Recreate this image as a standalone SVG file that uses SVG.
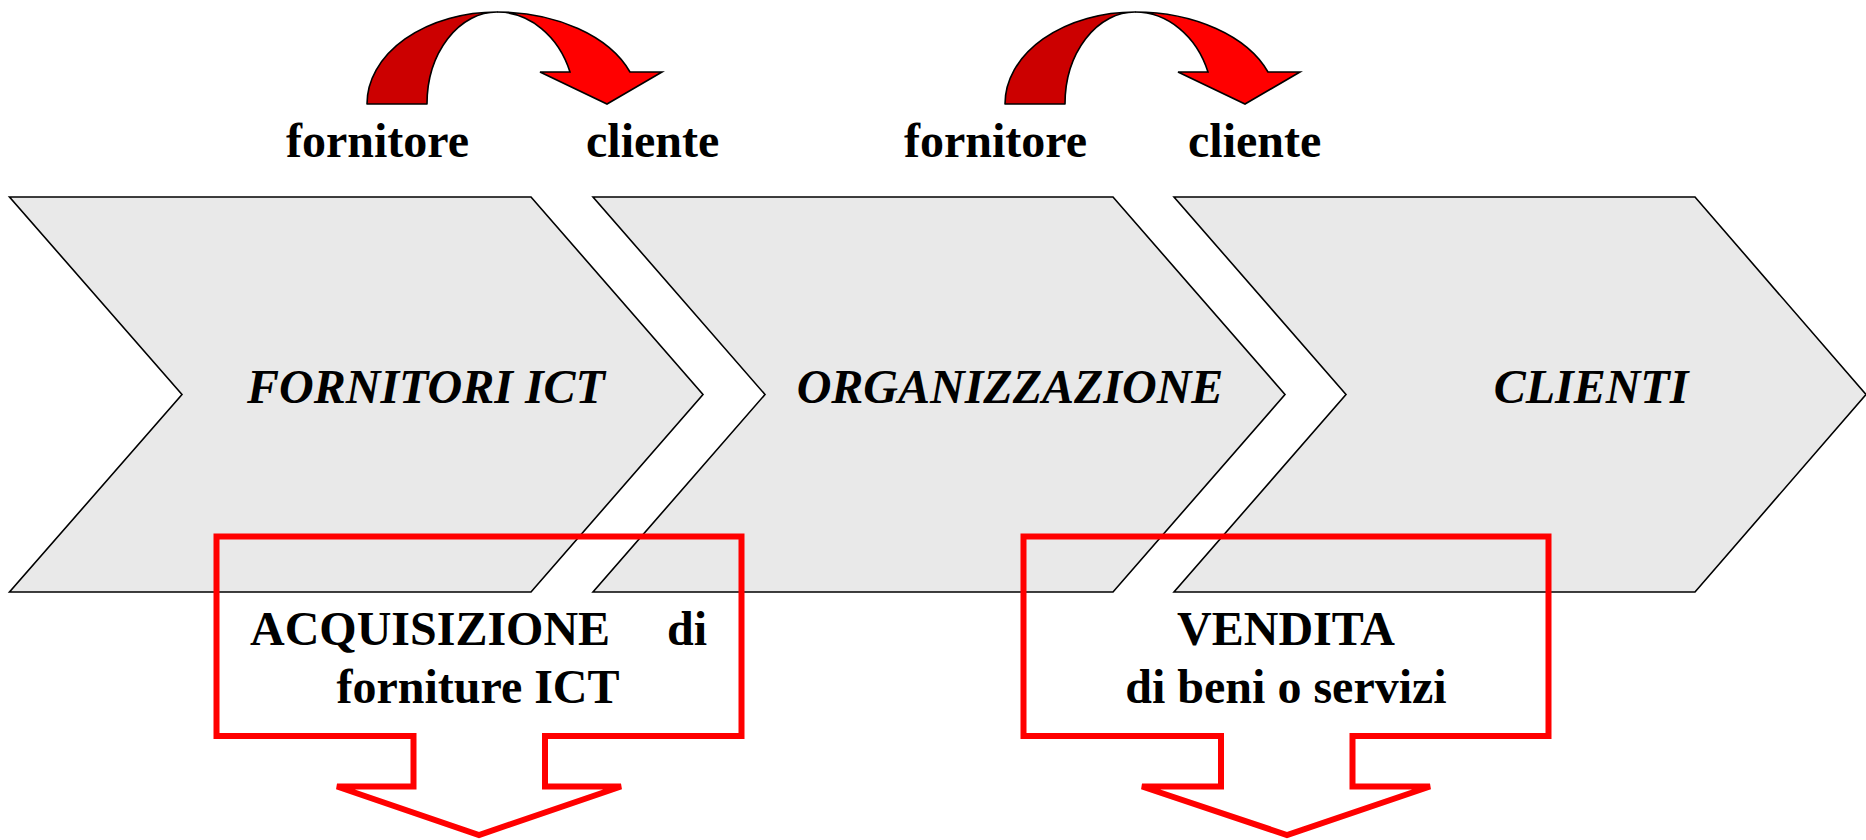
<svg xmlns="http://www.w3.org/2000/svg" width="1866" height="840" viewBox="0 0 1866 840">
<style>
.chev{fill:#E9E9E9;stroke:#000;stroke-width:1.6;stroke-linejoin:miter}
.call{fill:none;stroke:#FF0000;stroke-width:6;stroke-linejoin:miter}
.lbl{font-family:"Liberation Serif","Times New Roman",serif;font-size:48px;font-weight:bold;font-style:italic;fill:#000;text-anchor:middle}
.txt{font-family:"Liberation Serif","Times New Roman",serif;font-size:48px;font-weight:bold;fill:#000}
.dark{fill:#CC0000;stroke:#000;stroke-width:1.6;stroke-linejoin:round}
.bright{fill:#FF0000;stroke:#000;stroke-width:1.6;stroke-linejoin:miter}
</style>
<defs>
<g id="curve">
<path class="dark" d="M367,104 A130,92 0 0 1 497,12 A70,92 0 0 0 427,104 Z"/>
<path class="bright" d="M497,12 A142,92 0 0 1 630,72 L662,72 L607,104 L540,72 L570,72 A78,92 0 0 0 497,12 Z"/>
</g>
</defs>
<rect width="1866" height="840" fill="#fff"/>
<g id="fornitori-ict">
<polygon class="chev" points="9.5,197 531,197 703,394.5 531,592 9.5,592 182,394.5"/>
<text class="lbl" x="426" y="403">FORNITORI ICT</text>
</g>
<g id="organizzazione">
<polygon class="chev" points="593,197 1113,197 1285,394.5 1113,592 593,592 765,394.5"/>
<text class="lbl" x="1010" y="403">ORGANIZZAZIONE</text>
</g>
<g id="clienti">
<polygon class="chev" points="1174,197 1695,197 1866,394.5 1695,592 1174,592 1346,394.5"/>
<text class="lbl" x="1591" y="403">CLIENTI</text>
</g>
<g id="acquisizione">
<polygon class="call" points="216.5,536.5 741.5,536.5 741.5,736 545,736 545,786.5 621,786.5 479,835 337,786.5 413.5,786.5 413.5,736 216.5,736"/>
<text class="txt" x="250" y="645">ACQUISIZIONE</text>
<text class="txt" x="707" y="645" text-anchor="end">di</text>
<text class="txt" x="478" y="703" text-anchor="middle">forniture ICT</text>
</g>
<g id="vendita">
<polygon class="call" points="1023.5,536.5 1548.5,536.5 1548.5,736 1352.5,736 1352.5,786.5 1430,786.5 1287,835 1142,786.5 1221,786.5 1221,736 1023.5,736"/>
<text class="txt" x="1286" y="645" text-anchor="middle">VENDITA</text>
<text class="txt" x="1286" y="703" text-anchor="middle">di beni o servizi</text>
</g>
<g id="roles">
<text class="txt" x="286" y="157">fornitore</text>
<text class="txt" x="586" y="157">cliente</text>
<text class="txt" x="904" y="157">fornitore</text>
<text class="txt" x="1188" y="157">cliente</text>
</g>
<g id="connectors">
<use href="#curve"/>
<use href="#curve" transform="translate(638,0)"/>
</g>
</svg>
